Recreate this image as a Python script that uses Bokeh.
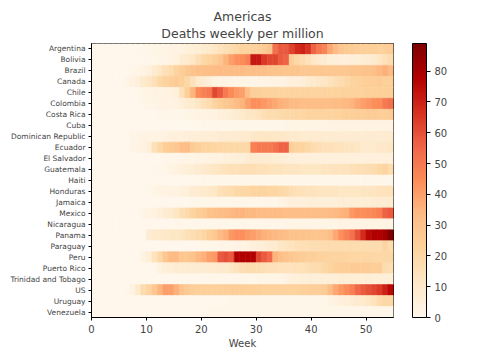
from bokeh.plotting import figure
from bokeh.models import (LinearColorMapper, ColorBar, FixedTicker, Range1d,
                          FactorRange, Title, ColumnDataSource)
from bokeh.embed import file_html
from bokeh.resources import INLINE

countries = ["Argentina", "Bolivia", "Brazil", "Canada", "Chile", "Colombia",
             "Costa Rica", "Cuba", "Dominican Republic", "Ecuador", "El Salvador",
             "Guatemala", "Haiti", "Honduras", "Jamaica", "Mexico", "Nicaragua",
             "Panama", "Paraguay", "Peru", "Puerto Rico", "Trinidad and Tobago",
             "US", "Uruguay", "Venezuela"]
weeks = list(range(55))
x_ticks = [0, 10, 20, 30, 40, 50]
cbar_ticks = [0, 10, 20, 30, 40, 50, 60, 70, 80]

argentina = [0,0,0,0,0,0,0,0,1,1, 1,2,2,2,3,3,4,5,6,7, 8,10,12,14,16,18,20,
             22,22,23,24,26,30, 52,58,58,63,68,70,66, 56,50,47,38,33,
             28,27,26,25,24,24,24,23,24,25]
bolivia = [0,0,0,0,0,0,0,0,0,0, 1,1,2,2,3,4, 8,10,12,16, 20,22,25,28, 35,40,44,
           45,48, 72,72,65,62,62,58,56, 25,20,18,15, 12,10,8,
           6,6,5,5,6,6,7,8, 10,12,15,18]
brazil = [0,0,0,0,0,0,0,1, 2,3,5,8, 12,15,18,22, 25,28,
          30,31,32,32,33,33,33,33,33,33,
          32,32,31,31,30,30,30,29,29,29,28,28,28,28,28,28,28,28,28,29,29,30,30,31,
          34,36,33]
canada = [0,0,0,0,0,0, 2,4,6, 10,12,15, 20,22,25,26,24, 20,15, 10,8,6,
          4,3,3,2,2,2, 2,2,2,2,3,3,3, 4,5,5,6, 8,10,11,12, 14,16,18,20,
          22,23,24,25,25,26,24,24]
chile = [0,0,0,0,0,0,0,0,1, 2,2,3,3,4,4,5,
         15,25,35,45,48,50,62,58,50,45,42,40, 32,
         24,24,23,23,23,22,22,22,22,22,22,22,22,22,22,23,23,23,23,23,23,24,24,24,24,24]
colombia = [0,0,0,0,0,0,0,0,0,1, 2,2,3,3,3,4, 6,8,10,12, 15,18,22, 25,28,30, 33,35,
            40,44,44,42,40,38, 36,35, 33,33,32,32,32,32,32,32,33,33,34,35,
            38,40,42,44,45,50,52]
costa_rica = [0,0,0,0,0,0,0,0,0,0,0,0,1,1,1,1,1, 2,2,3,3,4,4, 5,6,7,8,10,
              12,12,14,16, 18,18,19,20, 20,21,21,22,22,22,22,22,23,23,
              24,24,25,25,26,26,25,25,26]
cuba = [0]*20 + [1]*15 + [2,2,2,2,2,2,2,2,3,3,3,3,3,3,3,3,3,3,3,3]
dominican_republic = [0]*7 + [2,2,3,3,3,3,4] + [5,5,5,6,6,6,7,7,7,8,8,8,9,9] + \
    [10,11,12,12,12,12,12,11] + [10,10,9,9,9,9,8,8,8,8,8,8,8,8,8,8,9,9,9]
ecuador = [0]*7 + [2,3,4,6, 15,20, 25,27,28, 32,32, 26,24,
           22,22,21,21,20,20,20,20,20, 48,50,50,50,52,56,56, 24,22,22,20,18,
           16,15,15,14,14,13,13,12, 10,10,10,11,11,12]
el_salvador = [0]*13 + [1,1,1,2,2,2,3,3,3,4,4,5, 5,6,6, 8,9,9,8,8,7,7,6,6] + [5]*18
guatemala = [0,0,0,0,0,0,0,0,0,0,0,1,1,1, 3,4,5,6,7,8, 10,11,12,13,14,15,15,16,
             16,16,15,15,14,14,14,13,13,13,12,12,12,12,13,13,14,14,14,15,16,16,17,18,20,22,18]
haiti = [0]*20 + [1]*35
honduras = [0]*10 + [1,2,3,3,4,4,5,5, 8,9,10,11,12, 15,17,18,20,20,
            21,22,22,22,21,21,20,19,
            16,15,15,14,14,13,13,13,13,12,12,12,12,13,13,13,14,14,14]
jamaica = [0]*18 + [1]*16 + [3,4,5,5,5,6,6,6,6,6,6,7,7,7,7,7,7,8,8,8,8]
mexico = [0]*9 + [2,3,4,6, 8,10,12, 16,19, 22,25,27, 30,31,32,33,34,35,35,
          34,34,33,33,33,33,33,32,32,32,32,32,32,32,32,33,34,35,36,
          42,44,44,45, 46,48, 56,58]
nicaragua = [0]*15 + [1]*20 + [2]*10 + [3]*10
panama = [0]*10 + [8,10,10,11,12,12,13, 15,17,19,21, 25,28, 33,36, 42,44,44,
          42,40,38, 36,35,34,33,32, 30,30,30,29,29,29,30,32,
          38,44,48,52, 60,68,76,78,78,82,89]
paraguay = [0]*20 + [1,1,1,2,2,2,3,3, 4,5,6,7,8,9,
            12,13,14,15,16,16,17,17,18,18,18,18,18,18,18,18,18,18,18,22,18]
peru = [0]*9 + [4,6, 14,20, 28,33,33,28, 28,30,34,36, 40,42, 58,60,58,
        78,78,78,78, 62,58,55, 35,32,30, 28,27,26,
        24,24,23,23,22,22,22,22,21,21,21,21,20,20,20,20]
puerto_rico = [0]*12 + [4,6,7,8,8,8,8,8,9,9,9,10,10,12,14,16, 18,18,17,
               16,15,15,14,14,14,15,15, 16,18,18,20,22,
               24,25,25,26,26,26,26,25,25, 18,16]
trinidad_and_tobago = [0]*20 + [1]*10 + [2]*5 + \
    [4,5,5,6,6,6,6,6,6,6,7,7,7,7,7,7,6,6,6,6]
us = [0,0,0,0,0,0,1, 4,10,18, 22,28,35, 40,40,36, 30,27,25,
      24,24,24,24,24,25,25,25,25,
      24,24,24,23,23,23,23,23,23,23,24,24,25,25,26,
      32,38, 42,45,48, 55,58,60, 62,65, 70,76]
uruguay = [0]*25 + [1]*18 + [3,4,5,6,7, 9,10,12,14, 18,20,20]
venezuela = [0]*20 + [1]*35

series = [argentina, bolivia, brazil, canada, chile, colombia, costa_rica, cuba,
          dominican_republic, ecuador, el_salvador, guatemala, haiti, honduras,
          jamaica, mexico, nicaragua, panama, paraguay, peru, puerto_rico,
          trinidad_and_tobago, us, uruguay, venezuela]

xs, ys, vs = [], [], []
for c, vals in zip(countries, series):
    for w, v in zip(weeks, vals):
        xs.append(w + 0.5)
        ys.append(c)
        vs.append(v)
src = ColumnDataSource(dict(x=xs, y=ys, v=vs))

# matplotlib OrRd, interpolated to 256 steps
base = ['#fff7ec', '#fee8c8', '#fdd49e', '#fdbb84', '#fc8d59',
        '#ef6548', '#d7301f', '#b30000', '#7f0000']
def hx(c):
    return [int(c[i:i + 2], 16) for i in (1, 3, 5)]
pal = []
n = 256
for i in range(n):
    t = i / (n - 1) * (len(base) - 1)
    k = min(int(t), len(base) - 2)
    f = t - k
    a, b = hx(base[k]), hx(base[k + 1])
    pal.append('#%02x%02x%02x' % tuple(round(a[j] + (b[j] - a[j]) * f) for j in range(3)))

mapper = LinearColorMapper(palette=pal, low=0, high=max(vs))

p = figure(frame_width=302, frame_height=274,
           x_range=Range1d(0, len(weeks)), y_range=FactorRange(*reversed(countries)),
           output_backend="svg", toolbar_location=None,
           min_border_left=91, min_border_right=10, min_border_top=43, min_border_bottom=5)

p.rect(x='x', y='y', width=1, height=1, source=src,
       fill_color={'field': 'v', 'transform': mapper},
       line_color={'field': 'v', 'transform': mapper}, line_width=0.6)

p.title.visible = False
p.add_layout(Title(text="Deaths weekly per million", align="center",
                   text_font="DejaVu Sans", text_font_size="12.5px",
                   text_font_style="normal", standoff=6), "above")
p.add_layout(Title(text="Americas", align="center",
                   text_font="DejaVu Sans", text_font_size="12.5px",
                   text_font_style="normal", standoff=-6), "above")

p.xgrid.visible = False
p.ygrid.visible = False
p.outline_line_color = "black"
p.outline_line_width = 1

xa = p.xaxis[0]
xa.ticker = FixedTicker(ticks=x_ticks)
xa.axis_label = "Week"
xa.axis_label_text_font = "DejaVu Sans"
xa.axis_label_text_font_size = "10px"
xa.axis_label_text_font_style = "normal"
xa.axis_label_standoff = 2
xa.major_label_text_font = "DejaVu Sans"
xa.major_label_text_font_size = "10px"
xa.major_label_standoff = 4
xa.major_tick_out = 3
xa.major_tick_in = 0
xa.minor_tick_line_color = None
xa.axis_line_color = "black"

ya = p.yaxis[0]
ya.major_label_text_font = "DejaVu Sans"
ya.major_label_text_font_size = "7.5px"
ya.major_label_standoff = 3
ya.major_tick_out = 3
ya.major_tick_in = 0
ya.axis_line_color = "black"

cb = ColorBar(color_mapper=mapper, ticker=FixedTicker(ticks=cbar_ticks),
              width=14, height=274, padding=0, margin=0, location=(19, 0),
              bar_line_color="black", bar_line_width=1,
              major_tick_line_color="black", major_tick_out=4, major_tick_in=0,
              major_label_text_font="DejaVu Sans", major_label_text_font_size="10px",
              label_standoff=4, background_fill_color=None, border_line_color=None)
p.add_layout(cb, "right")

open("out.html", "w").write(file_html(p, INLINE))
